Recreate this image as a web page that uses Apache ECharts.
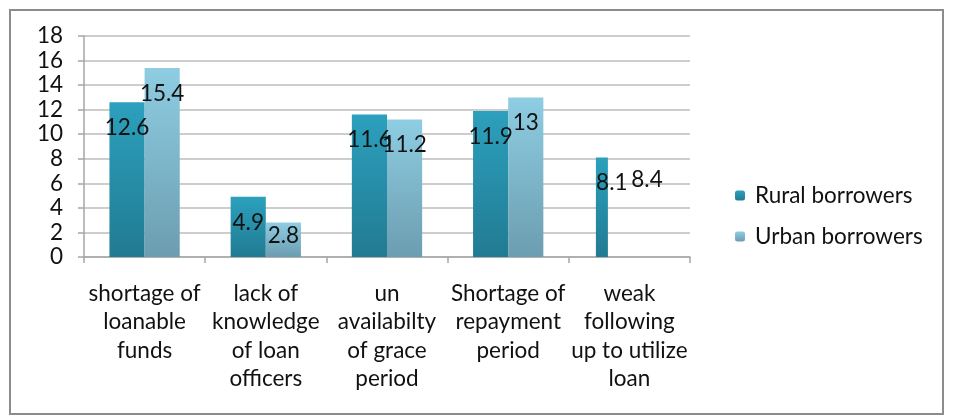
<!DOCTYPE html>
<html>
<head>
<meta charset="utf-8">
<script src="https://cdn.jsdelivr.net/npm/echarts@6/dist/echarts.min.js"></script>
<style>
  html, body { margin: 0; padding: 0; background: #fff; }
  #chart { width: 956px; height: 417px; }
</style>
</head>
<body>
<div id="chart"></div>
<script>
// 数据
const categories = [
  "shortage of\nloanable\nfunds",
  "lack of\nknowledge\nof loan\nofficers",
  "un\navailabilty\nof grace\nperiod",
  "Shortage of\nrepayment\nperiod",
  "weak\nfollowing\nup to utilize\nloan"
];
const seriesNames = ["Rural borrowers", "Urban borrowers"];
const rural = [12.6, 4.9, 11.6, 11.9, 8.1];
const urban = [15.4, 2.8, 11.2, 13, 8.4];
const yTicks = { min: 0, max: 18, interval: 2 };

const font = "Lato";
const fontSize = 22.5;
const ruralGrad = {
  type: "linear", x: 0, y: 0, x2: 0, y2: 1,
  colorStops: [{ offset: 0, color: "#2ca0bd" }, { offset: 1, color: "#217b92" }]
};
const urbanGrad = {
  type: "linear", x: 0, y: 0, x2: 0, y2: 1,
  colorStops: [{ offset: 0, color: "#8ecde2" }, { offset: 1, color: "#6c9db0" }]
};

const lastIdx = categories.length - 1;
// 最后一组：乡村柱子画成窄条，城市柱子不画，只保留标签
const ruralData = rural.map((v, i) => {
  if (i === lastIdx) return { value: v, itemStyle: { color: "transparent" } };
  return v;
});
const urbanData = urban.map((v, i) => {
  if (i === 1) return { value: v, label: { distance: 2 } };
  if (i === lastIdx) return { value: v, itemStyle: { color: "transparent" } };
  return v;
});
const narrowData = rural.map((v, i) => (i === lastIdx ? v : "-"));

const labelStyle = {
  show: true,
  position: "insideTop",
  distance: 14,
  fontFamily: font,
  fontSize: fontSize,
  color: "#111"
};

const chart = echarts.init(document.getElementById("chart"));
chart.setOption({
  animation: false,
  backgroundColor: "#fff",
  textStyle: { fontFamily: font },
  graphic: [{
    type: "rect",
    shape: { x: 10, y: 10, width: 933, height: 404 },
    style: { fill: "none", stroke: "#8c8c8c", lineWidth: 2 },
    z: -1
  }],
  grid: { left: 84, right: 266, top: 36, bottom: 160 },
  legend: {
    data: seriesNames,
    orient: "vertical",
    left: 730,
    top: 179,
    itemWidth: 10,
    itemHeight: 10,
    itemGap: 18,
    textStyle: { fontFamily: font, fontSize: fontSize, color: "#111", padding: [0, 0, 0, 5] }
  },
  xAxis: {
    type: "category",
    data: categories,
    axisLine: { lineStyle: { color: "#a6a6a6", width: 1.5 } },
    axisTick: { show: true, length: 6, lineStyle: { color: "#a6a6a6", width: 1.5 } },
    axisLabel: {
      interval: 0,
      margin: 22,
      fontFamily: font,
      fontSize: fontSize,
      lineHeight: 28.5,
      color: "#111",
      align: "center"
    }
  },
  yAxis: {
    type: "value",
    min: yTicks.min,
    max: yTicks.max,
    interval: yTicks.interval,
    axisLine: { show: true, lineStyle: { color: "#a6a6a6", width: 1.5 } },
    axisTick: { show: true, length: 6, lineStyle: { color: "#a6a6a6", width: 1.5 } },
    splitLine: { lineStyle: { color: "#bdbdbd", width: 1.5 } },
    axisLabel: { margin: 21, fontFamily: font, fontSize: fontSize, color: "#111" }
  },
  series: [
    {
      name: seriesNames[0],
      type: "bar",
      data: ruralData,
      barGap: "0%",
      barCategoryGap: "42%",
      itemStyle: { color: ruralGrad },
      label: labelStyle,
      z: 2
    },
    {
      name: seriesNames[1],
      type: "bar",
      data: urbanData,
      itemStyle: { color: urbanGrad },
      label: labelStyle,
      z: 2
    },
    {
      name: "rural-narrow",
      type: "pictorialBar",
      data: narrowData,
      symbol: "rect",
      symbolPosition: "start",
      symbolSize: [12, "100%"],
      symbolOffset: [-27.5, 0],
      itemStyle: { color: ruralGrad },
      z: 1
    }
  ]
});
</script>
</body>
</html>
